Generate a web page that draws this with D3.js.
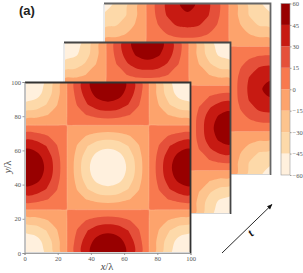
<!DOCTYPE html>
<meta charset="utf-8">
<style>
html, body { margin: 0; padding: 0; background: #fff; }
svg { display: block; }
text { font-family: "Liberation Serif", serif; }
.tick text { font-size: 6.5px; fill: #555; }
.tick line, .domain { stroke: #888; stroke-width: 0.8; }
</style>
<svg width="303" height="273"></svg>
<script src="https://d3js.org/d3.v7.min.js"></script>
<script>

// contour bands and their colours
var levels = [-60, -45, -30, -15, 0, 15, 30, 45, 60];
var bandColors = ["#fff0dd", "#fdd9a9", "#fdc48e", "#fda36c", "#f8794f", "#e5503a", "#c71a12", "#980000"];
var xTicks = [0, 20, 40, 60, 80, 100];
var yTicks = [0, 20, 40, 60, 80, 100];
var barTicks = [60, 45, 30, 15, 0, -15, -30, -45, -60];

// where the grid rows and columns sit, in x/lambda. tight around the zero lines
var gridStops = [0, 6.25, 12.5, 18.75, 24.6, 25.4, 31.25, 37.5, 43.75, 50, 56.25, 62.5, 68.75, 74.6, 75.4, 81.25, 87.5, 93.75, 100];

// field, top row first
var fieldFront = [
  [-60,-55,-42,-23,-1.8,1.8,23,42,55,60,55,42,23,1.8,-1.8,-23,-42,-55,-60],
  [-55,-51,-39,-21,-1.7,1.7,21,39,51,55,51,39,21,1.7,-1.7,-21,-39,-51,-55],
  [-42,-39,-30,-16,-1.3,1.3,16,30,39,42,39,30,16,1.3,-1.3,-16,-30,-39,-42],
  [-23,-21,-16,-9,-.7,.7,9,16,21,23,21,16,9,.7,-.7,-9,-16,-21,-23],
  [-1.8,-1.7,-1.3,-.7,-.1,.1,.7,1.3,1.7,1.8,1.7,1.3,.7,.1,-.1,-.7,-1.3,-1.7,-1.8],
  [1.8,1.7,1.3,.7,.1,-.1,-.7,-1.3,-1.7,-1.8,-1.7,-1.3,-.7,-.1,.1,.7,1.3,1.7,1.8],
  [23,21,16,9,.7,-.7,-9,-16,-21,-23,-21,-16,-9,-.7,.7,9,16,21,23],
  [42,39,30,16,1.3,-1.3,-16,-30,-39,-42,-39,-30,-16,-1.3,1.3,16,30,39,42],
  [55,51,39,21,1.7,-1.7,-21,-39,-51,-55,-51,-39,-21,-1.7,1.7,21,39,51,55],
  [60,55,42,23,1.8,-1.8,-23,-42,-55,-60,-55,-42,-23,-1.8,1.8,23,42,55,60],
  [55,51,39,21,1.7,-1.7,-21,-39,-51,-55,-51,-39,-21,-1.7,1.7,21,39,51,55],
  [42,39,30,16,1.3,-1.3,-16,-30,-39,-42,-39,-30,-16,-1.3,1.3,16,30,39,42],
  [23,21,16,9,.7,-.7,-9,-16,-21,-23,-21,-16,-9,-.7,.7,9,16,21,23],
  [1.8,1.7,1.3,.7,.1,-.1,-.7,-1.3,-1.7,-1.8,-1.7,-1.3,-.7,-.1,.1,.7,1.3,1.7,1.8],
  [-1.8,-1.7,-1.3,-.7,-.1,.1,.7,1.3,1.7,1.8,1.7,1.3,.7,.1,-.1,-.7,-1.3,-1.7,-1.8],
  [-23,-21,-16,-9,-.7,.7,9,16,21,23,21,16,9,.7,-.7,-9,-16,-21,-23],
  [-42,-39,-30,-16,-1.3,1.3,16,30,39,42,39,30,16,1.3,-1.3,-16,-30,-39,-42],
  [-55,-51,-39,-21,-1.7,1.7,21,39,51,55,51,39,21,1.7,-1.7,-21,-39,-51,-55],
  [-60,-55,-42,-23,-1.8,1.8,23,42,55,60,55,42,23,1.8,-1.8,-23,-42,-55,-60]
];
var fieldMiddle = [
  [-56,-52,-40,-21,-1.7,1.7,21,40,52,56,52,40,21,1.7,-1.7,-21,-40,-52,-56],
  [-52,-48,-37,-20,-1.6,1.6,20,37,48,52,48,37,20,1.6,-1.6,-20,-37,-48,-52],
  [-40,-37,-28,-15,-1.2,1.2,15,28,37,40,37,28,15,1.2,-1.2,-15,-28,-37,-40],
  [-21,-20,-15,-8,-.6,.6,8,15,20,21,20,15,8,.6,-.6,-8,-15,-20,-21],
  [-1.7,-1.6,-1.2,-.6,-.1,.1,.6,1.2,1.6,1.7,1.6,1.2,.6,.1,-.1,-.6,-1.2,-1.6,-1.7],
  [1.7,1.6,1.2,.6,.1,-.1,-.6,-1.2,-1.6,-1.7,-1.6,-1.2,-.6,-.1,.1,.6,1.2,1.6,1.7],
  [21,20,15,8,.6,-.6,-8,-15,-20,-21,-20,-15,-8,-.6,.6,8,15,20,21],
  [40,37,28,15,1.2,-1.2,-15,-28,-37,-40,-37,-28,-15,-1.2,1.2,15,28,37,40],
  [52,48,37,20,1.6,-1.6,-20,-37,-48,-52,-48,-37,-20,-1.6,1.6,20,37,48,52],
  [56,52,40,21,1.7,-1.7,-21,-40,-52,-56,-52,-40,-21,-1.7,1.7,21,40,52,56],
  [52,48,37,20,1.6,-1.6,-20,-37,-48,-52,-48,-37,-20,-1.6,1.6,20,37,48,52],
  [40,37,28,15,1.2,-1.2,-15,-28,-37,-40,-37,-28,-15,-1.2,1.2,15,28,37,40],
  [21,20,15,8,.6,-.6,-8,-15,-20,-21,-20,-15,-8,-.6,.6,8,15,20,21],
  [1.7,1.6,1.2,.6,.1,-.1,-.6,-1.2,-1.6,-1.7,-1.6,-1.2,-.6,-.1,.1,.6,1.2,1.6,1.7],
  [-1.7,-1.6,-1.2,-.6,-.1,.1,.6,1.2,1.6,1.7,1.6,1.2,.6,.1,-.1,-.6,-1.2,-1.6,-1.7],
  [-21,-20,-15,-8,-.6,.6,8,15,20,21,20,15,8,.6,-.6,-8,-15,-20,-21],
  [-40,-37,-28,-15,-1.2,1.2,15,28,37,40,37,28,15,1.2,-1.2,-15,-28,-37,-40],
  [-52,-48,-37,-20,-1.6,1.6,20,37,48,52,48,37,20,1.6,-1.6,-20,-37,-48,-52],
  [-56,-52,-40,-21,-1.7,1.7,21,40,52,56,52,40,21,1.7,-1.7,-21,-40,-52,-56]
];
var fieldBack = [
  [-48,-44,-33,-18,-1.4,1.4,18,33,44,48,44,33,18,1.4,-1.4,-18,-33,-44,-48],
  [-44,-40,-31,-17,-1.3,1.3,17,31,40,44,40,31,17,1.3,-1.3,-17,-31,-40,-44],
  [-33,-31,-24,-13,-1,1,13,24,31,33,31,24,13,1,-1,-13,-24,-31,-33],
  [-18,-17,-13,-7,-.5,.5,7,13,17,18,17,13,7,.5,-.5,-7,-13,-17,-18],
  [-1.4,-1.3,-1,-.5,-.1,.1,.5,1,1.3,1.4,1.3,1,.5,.1,-.1,-.5,-1,-1.3,-1.4],
  [1.4,1.3,1,.5,.1,-.1,-.5,-1,-1.3,-1.4,-1.3,-1,-.5,-.1,.1,.5,1,1.3,1.4],
  [18,17,13,7,.5,-.5,-7,-13,-17,-18,-17,-13,-7,-.5,.5,7,13,17,18],
  [33,31,24,13,1,-1,-13,-24,-31,-33,-31,-24,-13,-1,1,13,24,31,33],
  [44,40,31,17,1.3,-1.3,-17,-31,-40,-44,-40,-31,-17,-1.3,1.3,17,31,40,44],
  [48,44,33,18,1.4,-1.4,-18,-33,-44,-48,-44,-33,-18,-1.4,1.4,18,33,44,48],
  [44,40,31,17,1.3,-1.3,-17,-31,-40,-44,-40,-31,-17,-1.3,1.3,17,31,40,44],
  [33,31,24,13,1,-1,-13,-24,-31,-33,-31,-24,-13,-1,1,13,24,31,33],
  [18,17,13,7,.5,-.5,-7,-13,-17,-18,-17,-13,-7,-.5,.5,7,13,17,18],
  [1.4,1.3,1,.5,.1,-.1,-.5,-1,-1.3,-1.4,-1.3,-1,-.5,-.1,.1,.5,1,1.3,1.4],
  [-1.4,-1.3,-1,-.5,-.1,.1,.5,1,1.3,1.4,1.3,1,.5,.1,-.1,-.5,-1,-1.3,-1.4],
  [-18,-17,-13,-7,-.5,.5,7,13,17,18,17,13,7,.5,-.5,-7,-13,-17,-18],
  [-33,-31,-24,-13,-1,1,13,24,31,33,31,24,13,1,-1,-13,-24,-31,-33],
  [-44,-40,-31,-17,-1.3,1.3,17,31,40,44,40,31,17,1.3,-1.3,-17,-31,-40,-44],
  [-48,-44,-33,-18,-1.4,1.4,18,33,44,48,44,33,18,1.4,-1.4,-18,-33,-44,-48]
];

var svg = d3.select("svg");
var defs = svg.append("defs");

defs.append("filter").attr("id", "soft")
    .attr("filterUnits", "userSpaceOnUse")
    .attr("x", 0).attr("y", 0).attr("width", 303).attr("height", 273)
  .append("feGaussianBlur").attr("stdDeviation", 0.7);

var marker = defs.append("marker").attr("id", "head")
    .attr("viewBox", "0 0 10 10").attr("refX", 9).attr("refY", 5)
    .attr("markerWidth", 7).attr("markerHeight", 6).attr("orient", "auto");
marker.append("path").attr("d", "M0,1L10,5L0,9Z").attr("fill", "#111");

var color = d3.scaleThreshold().domain(levels.slice(1, -1)).range(bandColors);
var n = gridStops.length;
var gridIndex = gridStops.map((d, i) => i + 0.5);

function drawPanel(name, field, left, right, top, bottom, shadow) {
  var g = svg.append("g").attr("class", name);

  // white sheet under the image
  g.append("rect")
      .attr("x", left - 1.5).attr("y", top - 1)
      .attr("width", right - left + 1.5).attr("height", bottom - top + 2)
      .attr("fill", "#fff");

  defs.append("clipPath").attr("id", "clip-" + name)
    .append("rect")
      .attr("x", left).attr("y", top)
      .attr("width", right - left).attr("height", bottom - top);

  // grid index -> x/lambda -> pixels
  var px = d3.scaleLinear().domain([0, 100]).range([left, right]);
  var py = d3.scaleLinear().domain([0, 100]).range([top, bottom]);
  var gx = d3.scaleLinear().domain(gridIndex).range(gridStops.map(px));
  var gy = d3.scaleLinear().domain(gridIndex).range(gridStops.map(py));

  // rounded rings, contourf looks smooth in the original
  var ring = d3.line().x(p => gx(p[0])).y(p => gy(p[1]))
      .curve(d3.curveCatmullRomClosed.alpha(0.5));
  var shape = d => d.coordinates.map(poly => poly.map(r => ring(r.slice(0, -1))).join("")).join("");

  var contours = d3.contours().size([n, n]).thresholds(levels.slice(0, -1))(d3.merge(field));

  var clipped = g.append("g")
      .attr("clip-path", "url(#clip-" + name + ")");

  clipped.selectAll("path")
    .data(contours)
    .enter()
    .append("path")
      .attr("d", shape)
      .attr("fill-rule", "evenodd")
      .attr("fill", d => color(d.value));

  // pale seam along the zero level
  clipped.append("path")
      .datum(contours.find(d => d.value === 0))
      .attr("d", shape)
      .attr("fill", "none")
      .attr("stroke", "#ffd9c0")
      .attr("stroke-opacity", 0.5)
      .attr("stroke-width", 0.5);

  // the blurred edge along top and right of each sheet
  g.append("path")
      .attr("d", d3.line()([[left - 1, top - 0.5], [right + 0.5, top - 0.5], [right + 0.5, bottom + 1]]))
      .attr("fill", "none")
      .attr("stroke", shadow)
      .attr("stroke-width", 1.8)
      .attr("filter", "url(#soft)");
  g.append("path")
      .attr("d", d3.line()([[left - 1, top], [left - 1, bottom + 0.5], [right, bottom + 0.5]]))
      .attr("fill", "none")
      .attr("stroke", "#bbb")
      .attr("stroke-width", 0.6);
}

drawPanel("back", fieldBack, 105, 270, 4, 174, "#666");
drawPanel("middle", fieldMiddle, 65, 230, 43, 213, "#444");
drawPanel("front", fieldFront, 26, 190, 83, 252, "#333");

// axes of the front panel
var x = d3.scaleLinear().domain([0, 100]).range([24.5, 190.5]);
var y = d3.scaleLinear().domain([0, 100]).range([253, 82]);

svg.append("g")
    .attr("transform", "translate(0,253)")
    .call(d3.axisBottom(x).tickValues(xTicks).tickSize(2).tickPadding(1.5));
svg.append("g")
    .attr("transform", "translate(24.5,0)")
    .call(d3.axisLeft(y).tickValues(yTicks).tickSize(2).tickPadding(1.5));

svg.append("text")
    .attr("x", 107).attr("y", 270)
    .attr("text-anchor", "middle")
    .attr("font-size", 10.5).attr("fill", "#444")
    .html('<tspan font-style="italic">x</tspan>/λ');
svg.append("text")
    .attr("transform", "translate(11,167) rotate(-90)")
    .attr("text-anchor", "middle")
    .attr("font-size", 10.5).attr("fill", "#444")
    .html('<tspan font-style="italic">y</tspan>/λ');

// colorbar
var bar = d3.scaleLinear().domain([-60, 60]).range([175, 3.5]);
svg.append("g").attr("class", "colorbar")
  .selectAll("rect")
  .data(d3.pairs(levels))
  .enter()
  .append("rect")
    .attr("x", 281)
    .attr("width", 9)
    .attr("y", d => bar(d[1]))
    .attr("height", d => bar(d[0]) - bar(d[1]))
    .attr("fill", d => color(d[0]));
svg.append("rect")
    .attr("x", 281).attr("y", bar(60))
    .attr("width", 9).attr("height", bar(-60) - bar(60))
    .attr("fill", "none").attr("stroke", "#999").attr("stroke-width", 0.6);
svg.append("g")
    .attr("transform", "translate(290,0)")
    .call(d3.axisRight(bar).tickValues(barTicks).tickSize(1.5).tickPadding(1)
      .tickFormat(d => d < 0 ? "\u2212" + (-d) : d))
    .call(g => g.select(".domain").remove());

// panel tag and time arrow
svg.append("text")
    .attr("x", 19).attr("y", 15)
    .attr("font-size", 13).attr("font-weight", "bold").attr("fill", "#222")
    .style("font-family", "'Liberation Sans', Arial, sans-serif")
    .text("(a)");

svg.append("line")
    .attr("x1", 222).attr("y1", 253).attr("x2", 272).attr("y2", 204.5)
    .attr("stroke", "#111").attr("stroke-width", 0.9)
    .attr("marker-end", "url(#head)");
svg.append("text")
    .attr("transform", "translate(252,237) rotate(-45)")
    .attr("font-size", 12).attr("font-weight", "bold").attr("font-style", "italic").attr("fill", "#111")
    .text("t");

</script>
